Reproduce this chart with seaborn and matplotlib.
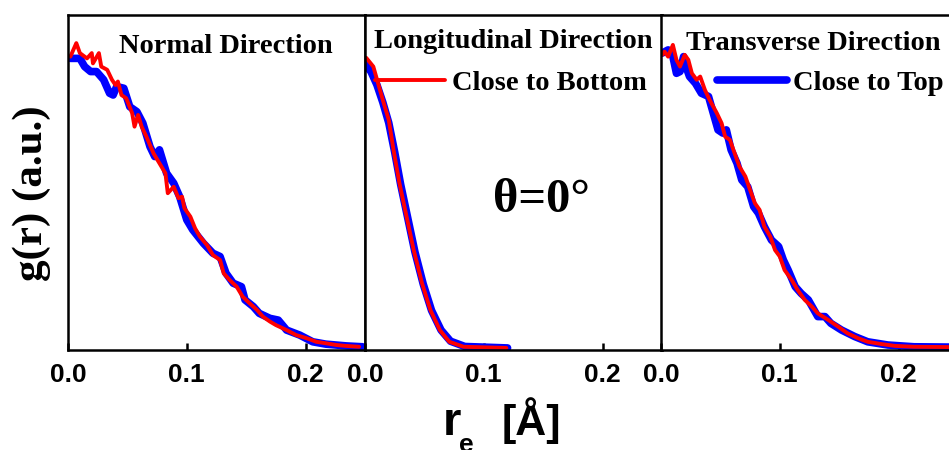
import numpy as np
import pandas as pd
import matplotlib
matplotlib.use("Agg")
import matplotlib.pyplot as plt
import seaborn as sns

# --- data (r in Angstrom, g(r) in a.u.) ---
normal_top_r = [0.002, 0.010, 0.014, 0.019, 0.024, 0.030, 0.035, 0.038, 0.041, 0.047, 0.052, 0.058,
                0.063, 0.069, 0.073, 0.077, 0.083, 0.089, 0.094, 0.100, 0.105, 0.114, 0.122, 0.128,
                0.133, 0.139, 0.146, 0.149, 0.156, 0.161, 0.170, 0.177, 0.184, 0.195, 0.206, 0.217,
                0.234, 0.248]
normal_top_g = [0.995, 0.995, 0.967, 0.950, 0.950, 0.922, 0.876, 0.870, 0.899, 0.893, 0.830, 0.813,
                0.774, 0.694, 0.660, 0.683, 0.603, 0.569, 0.523, 0.444, 0.410, 0.364, 0.330, 0.319,
                0.262, 0.228, 0.216, 0.171, 0.148, 0.125, 0.108, 0.102, 0.068, 0.051, 0.028, 0.020,
                0.014, 0.011]
normal_bot_r = [0.002, 0.007, 0.010, 0.016, 0.020, 0.021, 0.026, 0.028, 0.033, 0.037, 0.040, 0.042,
                0.045, 0.049, 0.054, 0.056, 0.059, 0.062, 0.066, 0.072, 0.077, 0.082, 0.084, 0.089,
                0.093, 0.096, 0.098, 0.103, 0.107, 0.111, 0.117, 0.122, 0.128, 0.131, 0.136, 0.142,
                0.147, 0.153, 0.159, 0.164, 0.170, 0.175, 0.184, 0.192, 0.201, 0.209, 0.217, 0.226,
                0.234, 0.245]
normal_bot_g = [1.001, 1.047, 1.013, 0.995, 1.013, 0.978, 1.013, 0.967, 0.956, 0.922, 0.904, 0.916,
                0.870, 0.859, 0.808, 0.762, 0.802, 0.762, 0.728, 0.671, 0.637, 0.603, 0.535, 0.557,
                0.518, 0.523, 0.484, 0.455, 0.415, 0.387, 0.358, 0.324, 0.307, 0.262, 0.239, 0.216,
                0.182, 0.159, 0.137, 0.114, 0.097, 0.085, 0.068, 0.051, 0.040, 0.028, 0.023, 0.017,
                0.014, 0.011]

long_top_r = [0.000, 0.005, 0.010, 0.015, 0.020, 0.025, 0.030, 0.036, 0.042, 0.049, 0.056, 0.064,
              0.072, 0.084, 0.120]
long_top_g = [0.975, 0.950, 0.905, 0.845, 0.775, 0.675, 0.565, 0.450, 0.335, 0.225, 0.135, 0.068,
              0.030, 0.012, 0.007]
long_bot_r = [0.001, 0.007, 0.011, 0.015, 0.020, 0.024, 0.029, 0.035, 0.041, 0.048, 0.055, 0.063,
              0.071, 0.083, 0.119]
long_bot_g = [0.997, 0.967, 0.910, 0.853, 0.785, 0.683, 0.569, 0.455, 0.341, 0.228, 0.137, 0.068,
              0.028, 0.011, 0.007]

trans_top_r = [0.001, 0.006, 0.010, 0.013, 0.016, 0.019, 0.022, 0.024, 0.029, 0.034, 0.040, 0.044,
               0.048, 0.052, 0.055, 0.059, 0.064, 0.068, 0.073, 0.078, 0.082, 0.087, 0.093, 0.099,
               0.103, 0.107, 0.113, 0.118, 0.124, 0.132, 0.138, 0.143, 0.152, 0.163, 0.174, 0.191,
               0.213, 0.241, 0.250]
trans_top_g = [1.013, 1.024, 1.001, 0.944, 0.950, 1.001, 0.956, 0.933, 0.910, 0.876, 0.865, 0.808,
               0.751, 0.740, 0.751, 0.683, 0.637, 0.580, 0.557, 0.489, 0.467, 0.421, 0.375, 0.353,
               0.307, 0.273, 0.216, 0.193, 0.171, 0.114, 0.114, 0.091, 0.068, 0.046, 0.028, 0.017,
               0.011, 0.010, 0.010]
trans_bot_r = [0.001, 0.003, 0.006, 0.010, 0.013, 0.016, 0.020, 0.023, 0.026, 0.030, 0.033, 0.037,
               0.041, 0.047, 0.051, 0.054, 0.058, 0.062, 0.066, 0.071, 0.075, 0.079, 0.083, 0.087,
               0.092, 0.096, 0.100, 0.104, 0.110, 0.115, 0.121, 0.127, 0.132, 0.141, 0.149, 0.157,
               0.166, 0.174, 0.186, 0.197, 0.213, 0.241, 0.250]
trans_bot_g = [1.007, 1.018, 1.001, 1.041, 0.990, 0.967, 1.007, 0.990, 0.944, 0.922, 0.933, 0.887,
               0.853, 0.808, 0.774, 0.728, 0.717, 0.671, 0.626, 0.592, 0.546, 0.501, 0.478, 0.421,
               0.387, 0.341, 0.319, 0.273, 0.239, 0.205, 0.171, 0.148, 0.125, 0.102, 0.080, 0.057,
               0.040, 0.028, 0.020, 0.014, 0.011, 0.010, 0.010]

panel_titles = ["Normal Direction", "Longitudinal Direction", "Transverse Direction"]
series_names = ["Close to Top", "Close to Bottom"]
tick_vals = [0.0, 0.1, 0.2]
tick_labels = ["0.0", "0.1", "0.2"]

sns.set_style("white")
plt.rcParams["text.color"] = "black"
plt.rcParams["xtick.color"] = "black"
plt.rcParams["axes.labelcolor"] = "black"
serif = ["Liberation Serif", "DejaVu Serif"]
sans = ["Liberation Sans", "DejaVu Sans"]

W, H = 949, 450
fig = plt.figure(figsize=(W / 100, H / 100), dpi=100)

panels = [
    (normal_top_r, normal_top_g, normal_bot_r, normal_bot_g),
    (long_top_r, long_top_g, long_bot_r, long_bot_g),
    (trans_top_r, trans_top_g, trans_bot_r, trans_bot_g),
]
lefts = [68, 365, 661]
pw = 297
axes = []
for i, (tr, tg, br, bg) in enumerate(panels):
    ax = fig.add_axes([lefts[i] / W, 100 / H, pw / W, 335 / H])
    d_top = pd.DataFrame({"r": tr, "g": tg})
    d_bot = pd.DataFrame({"r": br, "g": bg})
    sns.lineplot(data=d_top, x="r", y="g", ax=ax, color="#0000ff", lw=5.5,
                 estimator=None, solid_capstyle="round", solid_joinstyle="round")
    sns.lineplot(data=d_bot, x="r", y="g", ax=ax, color="#ff0000", lw=2.8,
                 estimator=None, solid_joinstyle="round")
    ax.set_xlim(0, 0.25)
    ax.set_ylim(0, 1.143)
    ax.set_yticks([])
    ax.set_xticks(tick_vals)
    ax.set_xticklabels(tick_labels, family=sans, weight="bold", fontsize=19, color="black")
    ax.tick_params(axis="x", direction="in", length=5, width=1.8, pad=9, bottom=True, top=False,
                   color="black")
    ax.set_xlabel("")
    ax.set_ylabel("")
    for s in ax.spines.values():
        s.set_color("black")
        s.set_linewidth(1.8)
    axes.append(ax)

title_pos = [(0.532, 0.887), (0.498, 0.901), (0.512, 0.896)]
for ax, t, (x, y) in zip(axes, panel_titles, title_pos):
    ax.text(x, y, t, transform=ax.transAxes, ha="center", va="baseline",
            family=serif, weight="bold", fontsize=20.5, color="black")

axes[1].text(0.593, 0.412, "θ=0°", transform=axes[1].transAxes, ha="center", va="baseline",
             family=serif, weight="bold", fontsize=35, color="black")

leg_font = dict(family=serif, weight="bold", size=20.5)
red_line = axes[1].get_lines()[1]
axes[1].legend([red_line], [series_names[1]], loc="center left", bbox_to_anchor=(0.034, 0.797),
               frameon=False, prop=leg_font, handlelength=2.46, handletextpad=0.25,
               borderpad=0, borderaxespad=0, labelcolor="black")
blue_line = axes[2].get_lines()[0]
axes[2].legend([blue_line], [series_names[0]], loc="center left", bbox_to_anchor=(0.19, 0.797),
               frameon=False, prop=leg_font, handlelength=2.46, handletextpad=0.2,
               borderpad=0, borderaxespad=0, labelcolor="black")

fig.text(32 / W, (H - 193) / H, "g(r) (a.u.)", rotation=90, ha="center", va="center",
         family=serif, weight="bold", fontsize=31, color="black")

fig.text(443 / W, 15 / H, "r", ha="left", va="baseline", family=sans, weight="bold", fontsize=34,
         color="black")
fig.text(459 / W, -2 / H, "e", ha="left", va="baseline", family=sans, weight="bold", fontsize=19,
         color="black")
fig.text(502 / W, 15 / H, "[Å]", ha="left", va="baseline", family=sans, weight="bold", fontsize=31,
         color="black")

fig.savefig("out.png", dpi=100)
